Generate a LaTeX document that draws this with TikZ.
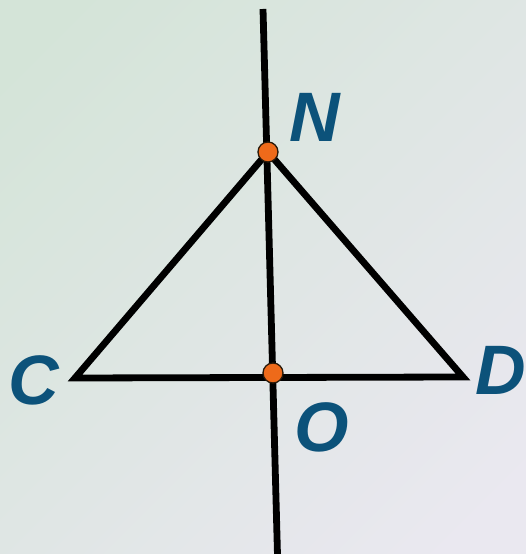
\documentclass[tikz,border=0pt]{standalone}
\usepackage{fontspec}
\setmainfont{Liberation Sans}
\begin{document}
\begin{tikzpicture}[x=1pt,y=1pt,
  seg/.style={line width=6.8pt,black},
  pt/.style={circle,fill={rgb,255:red,238;green,106;blue,26},draw={rgb,255:red,40;green,25;blue,10},line width=1.3pt,minimum size=20pt,inner sep=0pt},
  lab/.style={text={rgb,255:red,12;green,82;blue,122},font=\fontsize{70}{80}\selectfont\bfseries\itshape,inner sep=0pt}]
\definecolor{bgA}{RGB}{212,228,216}
\definecolor{bgB}{RGB}{234,232,240}
\useasboundingbox (0,0) rectangle (525,554);
\shade[top color=bgA,bottom color=bgB,shading angle=45] (-60,-60) rectangle (585,614);
\begin{scope}
\clip (0,0) rectangle (525,554);
\coordinate (T) at (263,545);
\coordinate (B) at (277.6,-5);
\coordinate (N) at (268,402);
\coordinate (C) at (75,176);
\coordinate (D) at (463,177);
\coordinate (O) at (273,181);
\draw[seg] (T) -- (B);
\draw[seg,miter limit=10] (N) -- (C) -- (D) -- cycle;
\end{scope}
\node[pt] (n) at (N) {};
\node[pt] (o) at (O) {};
\node[lab] (ln) at (315,437) {N};
\node[lab] (lc) at (34,174) {C};
\node[lab] (ld) at (501,184) {D};
\node[lab] (lo) at (322,127) {O};
\end{tikzpicture}
\end{document}
